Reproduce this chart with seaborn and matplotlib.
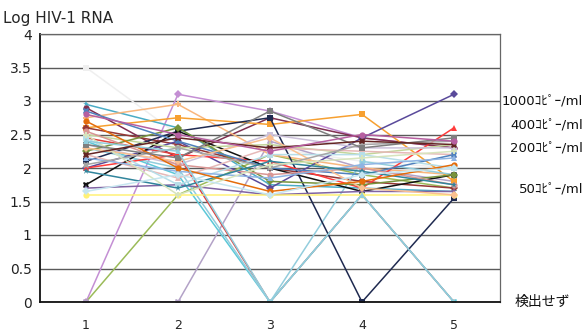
import numpy as np
import pandas as pd
import matplotlib
matplotlib.use("Agg")
import matplotlib.pyplot as plt
import seaborn as sns

# Visit numbers on the x axis
visits = [1, 2, 3, 4, 5]

# Log10 HIV-1 RNA per patient at each visit (0 = not detected)
visit1 = [3.50, 0.00, 0.00, 0.00, 2.95, 2.90, 2.75, 2.60, 2.60, 2.45, 2.40, 2.30,
          2.10, 2.00, 2.00, 1.75, 1.70, 1.60, 2.50, 2.35, 2.25, 2.20, 2.85, 2.55,
          2.45, 2.30, 2.15, 2.05, 1.95, 2.70, 2.50, 2.35, 1.65, 2.40, 2.20, 2.80]
visit2 = [2.50, 3.10, 1.60, 0.00, 2.60, 2.15, 2.95, 2.75, 2.35, 2.20, 1.90, 2.00,
          2.55, 2.40, 2.20, 2.55, 1.75, 1.60, 2.30, 2.05, 2.60, 1.85, 2.40, 2.05,
          1.75, 2.10, 1.95, 2.30, 1.70, 2.00, 1.60, 2.15, 1.90, 2.25, 2.45, 2.50]
visit3 = [2.30, 2.85, 2.20, 2.40, 1.75, 2.75, 2.20, 2.65, 2.00, 0.00, 0.00, 0.00,
          2.75, 1.70, 2.10, 2.00, 1.60, 1.60, 2.35, 2.50, 1.80, 2.30, 2.00, 1.90,
          2.20, 2.45, 1.85, 2.00, 2.10, 1.65, 2.05, 2.85, 1.60, 0.00, 2.30, 2.25]
visit4 = [2.10, 2.45, 1.90, 2.00, 1.70, 2.45, 2.00, 2.80, 1.80, 1.60, 1.60, 2.10,
          0.00, 2.45, 1.70, 1.65, 1.65, 1.60, 2.20, 2.30, 1.75, 2.25, 1.90, 2.00,
          2.20, 1.70, 2.05, 2.35, 1.95, 1.80, 2.15, 2.30, 1.90, 1.60, 2.40, 2.50]
visit5 = [2.00, 2.30, 1.70, 1.80, 1.65, 2.30, 1.90, 1.80, 1.70, 0.00, 0.00, 1.90,
          1.55, 3.10, 2.60, 1.90, 1.65, 1.60, 2.35, 2.30, 1.90, 2.20, 2.20, 1.75,
          2.00, 1.60, 2.15, 2.40, 1.75, 2.05, 2.25, 2.45, 2.00, 0.00, 2.35, 2.40]

line_colors = ["#efefef", "#c48fd4", "#9bbb59", "#b3a2c7", "#4bacc6", "#7f2f4f",
               "#f9b77e", "#f7a030", "#953735", "#e0403c", "#5cc8d8", "#93cddd",
               "#1f2a50", "#5a4a9b", "#ff3b3b", "#111111", "#8064a2", "#fff176",
               "#c3d69b", "#ccc1da", "#77933c", "#e6b9b8", "#4f81bd", "#d99694",
               "#b7dee8", "#fac090", "#8eb4e3", "#a6a6a6", "#31859c", "#e46c0a",
               "#d7e4bd", "#7f7f7f", "#c6e6f0", "#92cddc", "#632523", "#b65fa0"]

marker_cycle = ["s", "D", "^", "X", "*", "o", "P", "s", "D", "^", "X", "o"]

# Level thresholds shown at the right edge
ref_labels = ["1000ｺﾋﾟｰ/ml", "400ｺﾋﾟｰ/ml", "200ｺﾋﾟｰ/ml", "50ｺﾋﾟｰ/ml", "検出せず"]
ref_levels = [3.0, 2.64, 2.3, 1.69, 0.0]

ytick_vals = [0, 0.5, 1, 1.5, 2, 2.5, 3, 3.5, 4]
ytick_text = ["0", "0.5", "1", "1.5", "2", "2.5", "3", "3.5", "4"]

n = len(visit1)
pids = [f"P{i+1:02d}" for i in range(n)]
cols = [visit1, visit2, visit3, visit4, visit5]
df = pd.DataFrame({
    "patient": np.repeat(pids, len(visits)),
    "visit": visits * n,
    "log_rna": [cols[j][i] for i in range(n) for j in range(len(visits))],
})

sns.set_style("white")
plt.rcParams["font.family"] = ["DejaVu Sans", "Noto Sans CJK JP"]

fig = plt.figure(figsize=(5.84, 3.34), dpi=100)
ax = fig.add_axes([40 / 584, 32 / 334, 460 / 584, 268 / 334])

sns.lineplot(data=df, x="visit", y="log_rna", hue="patient", style="patient",
             palette=line_colors, markers=[marker_cycle[i % len(marker_cycle)] for i in range(n)],
             dashes=False, linewidth=1.1, markersize=4.5, markeredgewidth=0,
             legend=False, ax=ax, sort=False, estimator=None)

ax.set_xlim(0.5, 5.5)
ax.set_ylim(0, 4)
ax.set_yticks(ytick_vals)
ax.set_yticklabels(ytick_text)
ax.set_xticks(visits)
ax.set_xticks([1.5, 2.5, 3.5, 4.5], minor=True)
ax.tick_params(axis="x", which="major", length=0, pad=12, labelsize=9)
ax.tick_params(axis="x", which="minor", length=4, direction="in", color="#333333")
ax.tick_params(axis="y", length=0, pad=6, labelsize=10, labelcolor="#222222")
ax.set_xlabel("")
ax.set_ylabel("")
ax.grid(axis="y", color="#5a5a5a", linewidth=1.0)
ax.set_axisbelow(True)

for side in ["top", "right"]:
    ax.spines[side].set_color("#666666")
    ax.spines[side].set_linewidth(0.9)
for side in ["left", "bottom"]:
    ax.spines[side].set_color("#111111")
    ax.spines[side].set_linewidth(1.3)

for lab, lev in zip(ref_labels[:-1], ref_levels[:-1]):
    ax.text(583 / 584, ax.transData.transform((0, lev))[1] / fig.bbox.height, lab,
            transform=fig.transFigure, ha="right", va="center", fontsize=9.5,
            family=["DejaVu Sans", "Noto Sans CJK JP"], color="#111111")
ax.text(515 / 584, ax.transData.transform((0, ref_levels[-1]))[1] / fig.bbox.height,
        ref_labels[-1], transform=fig.transFigure, ha="left", va="center",
        fontsize=10, family=["Noto Sans CJK JP"], color="#111111")

fig.text(3 / 584, 1 - 18 / 334, "Log HIV-1 RNA", ha="left", va="center", fontsize=11)

fig.savefig("out.png", dpi=100)
